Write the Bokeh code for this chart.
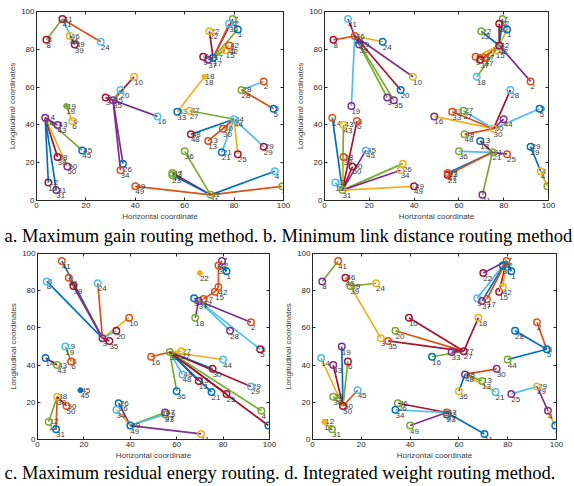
from bokeh.plotting import figure
from bokeh.layouts import column, row
from bokeh.models import ColumnDataSource, LinearAxis, FixedTicker, Range1d, Label
from bokeh.core.properties import value
from bokeh.embed import file_html
from bokeh.resources import INLINE

# ---------------- data ----------------
node_id = list(range(1, 51))
node_x = [81.5, 92, 28, 96.5, 96, 14.5, 79.5, 4, 67.5, 39.5,
          70.5, 4.8, 69.5, 3.5, 76.5, 49, 71.5, 68, 12, 34,
          75, 70, 55, 26, 81.5, 35, 62, 83, 92, 75.5,
          8, 78, 57, 34, 31, 60, 69.5, 8.5, 15.5, 99.5,
          10.5, 78, 8.5, 80, 18.5, 13.5, 55, 62.5, 40, 12.5]
node_y = [90.5, 63, 54.5, 15.5, 48.5, 42, 96, 85, 76, 65.5,
          3, 9.5, 31.5, 43.8, 79.5, 44.5, 75.5, 65.5, 50, 58.5,
          25.5, 89.5, 13.5, 84, 24.5, 19.5, 47.5, 58.5, 28.5, 38,
          5.5, 93.5, 47, 16, 53, 26, 74.5, 23, 82.5, 7.5,
          96, 82, 40, 43, 26.5, 87, 14.5, 35, 7.5, 18]

palette = {"B": "#0072BD", "O": "#D95319", "Y": "#EDB120", "P": "#7E2F8E",
           "G": "#77AC30", "C": "#4DBEEE", "R": "#A2142F"}

# routing links: (from, to, colour)
links_a = [(8, 41, "G"), (41, 24, "O"), (41, 39, "C"), (46, 39, "B"),
           (10, 35, "R"), (20, 35, "G"), (3, 35, "R"), (3, 16, "P"), (35, 26, "P"), (35, 34, "P"),
           (14, 12, "B"), (14, 31, "B"), (14, 38, "R"), (14, 50, "Y"), (14, 45, "G"), (14, 43, "P"), (19, 6, "Y"),
           (17, 22, "R"), (17, 7, "P"), (17, 32, "O"), (17, 1, "G"), (17, 42, "Y"), (17, 15, "G"), (17, 9, "C"), (17, 37, "B"),
           (18, 33, "Y"), (2, 28, "C"), (28, 5, "O"), (27, 44, "G"),
           (44, 48, "B"), (44, 30, "R"), (44, 13, "O"), (44, 21, "C"), (44, 25, "Y"), (44, 29, "C"),
           (11, 36, "G"), (11, 47, "R"), (11, 23, "B"), (11, 4, "B"), (11, 49, "O"), (11, 40, "O")]
links_b = [(46, 8, "O"), (46, 24, "Y"), (46, 41, "P"), (46, 19, "C"), (46, 3, "G"), (46, 35, "G"), (46, 20, "R"), (46, 10, "P"), (46, 39, "B"),
           (31, 14, "B"), (31, 43, "G"), (31, 6, "R"), (31, 45, "P"), (31, 38, "Y"), (31, 50, "R"), (31, 26, "G"), (31, 34, "P"), (31, 49, "Y"), (31, 12, "C"),
           (42, 7, "B"), (42, 32, "R"), (42, 22, "B"), (42, 1, "Y"), (42, 9, "Y"), (42, 37, "O"), (42, 17, "O"), (42, 18, "G"), (42, 2, "P"), (42, 15, "C"),
           (30, 28, "R"), (30, 5, "C"), (30, 16, "Y"), (30, 33, "O"), (30, 27, "C"), (30, 44, "P"), (30, 48, "O"),
           (21, 13, "R"), (21, 36, "C"), (21, 25, "P"), (21, 11, "G"), (21, 47, "B"), (21, 23, "O"),
           (29, 4, "B"), (4, 40, "Y")]
links_c = [(3, 8, "B"), (3, 41, "B"), (3, 46, "O"), (3, 39, "P"), (3, 24, "O"), (3, 10, "Y"), (3, 20, "C"), (3, 35, "R"),
           (19, 6, "G"), (14, 43, "R"),
           (38, 12, "G"), (38, 31, "O"), (38, 50, "R"),
           (49, 26, "P"), (49, 34, "Y"), (49, 47, "G"), (49, 23, "C"), (49, 11, "P"),
           (17, 15, "O"), (15, 42, "O"), (42, 32, "O"), (32, 1, "B"), (32, 7, "P"), (37, 9, "B"),
           (37, 2, "P"), (37, 28, "C"), (37, 5, "C"), (37, 18, "P"), (37, 17, "Y"),
           (33, 16, "O"), (33, 27, "Y"), (33, 44, "Y"), (33, 30, "B"), (33, 48, "C"), (33, 36, "G"), (33, 13, "R"),
           (33, 21, "B"), (33, 29, "R"), (33, 25, "R"), (33, 4, "G"), (33, 40, "R")]
links_d = [(41, 8, "G"), (46, 39, "R"), (39, 24, "G"), (46, 3, "Y"),
           (27, 10, "R"), (27, 20, "O"), (27, 35, "R"), (27, 18, "R"), (27, 16, "G"), (27, 33, "P"),
           (7, 22, "P"), (7, 9, "C"), (7, 37, "B"), (7, 17, "O"), (7, 15, "R"), (7, 42, "Y"), (7, 1, "B"), (7, 32, "O"),
           (5, 2, "O"), (5, 28, "B"), (5, 44, "B"),
           (48, 30, "O"), (48, 13, "G"), (48, 21, "Y"), (48, 36, "B"),
           (25, 29, "C"), (29, 4, "P"), (4, 40, "Y"),
           (50, 19, "B"), (50, 6, "G"), (50, 43, "R"), (50, 14, "Y"), (50, 45, "O"), (50, 38, "G"),
           (12, 31, "Y"),
           (47, 26, "R"), (47, 34, "C"), (47, 11, "B"), (47, 49, "P"), (47, 23, "B")]

# node marker colours (node 1..50)
node_col_a = "BORCBYGRRY" "GROPYCBYGC" "BYGCRBYGRO" "PCBOPGPRRG" "ROPCBYGROP"
node_col_b = "BOPYBOGROY" "PCBOYPOCPB" "GGRBOYGCBY" "GROYPGROPG" "CRYPCOOGRR"
node_col_c = "BOPGROPCBO" "YGRBOOOGCR" "BYGCRBYPCR" "BOGCRBPYRB" "OOGCBOPCBO"
node_col_d = "BOYPBROPCR" "BYGCRBOYPG" "CRBYPGRBYP" "GBPBOYPGGB" "OYPGCROPGR"

filled_a = [18, 19]
filled_b = []
filled_c = [22, 45]
filled_d = [12]

# nodes whose number is printed twice (right of and below the marker)
dup_a = [41, 8, 46, 39, 22, 7, 32, 42, 15, 17, 37, 9, 18, 28, 5, 33, 27, 44, 30, 48,
         13, 29, 21, 40, 11, 47, 23, 49, 12, 31, 50, 38, 45, 43, 6, 19, 14, 35, 3]
dup_b = [46, 39, 22, 7, 32, 42, 15, 17, 9, 37, 33, 27, 30, 48, 13, 21, 29, 4, 47, 23,
         6, 43, 38, 50, 45, 12, 49, 5]
dup_c = [8, 19, 6, 43, 45, 38, 50, 12, 26, 49, 7, 32, 17, 5, 27, 48, 13, 29, 47, 23]
dup_d = [46, 39, 27, 32, 7, 5, 48, 13, 29, 47, 23, 26, 38, 50, 12]

ticks = [0, 20, 40, 60, 80, 100]
x_title = "Horizontal coordinate"
y_title = "Longitudinal coordinates"
caption_top = "a. Maximum gain routing method. b. Minimum link distance routing method"
caption_bottom = "c. Maximum residual energy routing. d. Integrated weight routing method."

AX = "#262626"
TICK_FONT = "Liberation Sans"


def panel(links, node_col, filled, dup, w, h, bl, br, bt, bb):
    p = figure(width=w, height=h, x_range=Range1d(0, 100), y_range=Range1d(0, 100),
               toolbar_location=None, output_backend="svg",
               min_border_left=bl, min_border_right=br, min_border_top=bt, min_border_bottom=bb)
    p.grid.visible = False
    p.outline_line_color = AX
    p.outline_line_width = 1
    p.background_fill_color = "white"
    for ax in (p.xaxis[0], p.yaxis[0]):
        ax.ticker = FixedTicker(ticks=ticks)
        ax.major_tick_in = 3
        ax.major_tick_out = 0
        ax.minor_tick_in = 0
        ax.minor_tick_out = 0
        ax.axis_line_color = AX
        ax.major_tick_line_color = AX
        ax.major_label_text_font = TICK_FONT
        ax.major_label_text_font_size = "8px"
        ax.major_label_text_color = AX
        ax.major_label_standoff = 2
        ax.axis_label_text_font = TICK_FONT
        ax.axis_label_text_font_size = "8px"
        ax.axis_label_text_font_style = "normal"
        ax.axis_label_text_color = "#404040"
        ax.axis_label_standoff = 1
    p.xaxis.axis_label = x_title
    p.yaxis.axis_label = y_title
    # mirrored tick marks on the top and right edges (box on), no labels
    for side in ("above", "right"):
        a = LinearAxis(ticker=FixedTicker(ticks=ticks),
                       major_label_overrides={t: "" for t in ticks},
                       major_label_text_font_size="8px",
                       major_label_standoff=0, major_tick_in=3, major_tick_out=0,
                       minor_tick_in=0, minor_tick_out=0, axis_line_color=AX,
                       major_tick_line_color=AX)
        p.add_layout(a, side)

    # links
    seg = dict(x0=[node_x[a - 1] for a, b, c in links], y0=[node_y[a - 1] for a, b, c in links],
               x1=[node_x[b - 1] for a, b, c in links], y1=[node_y[b - 1] for a, b, c in links],
               col=[palette[c] for a, b, c in links])
    p.segment("x0", "y0", "x1", "y1", source=ColumnDataSource(seg), line_color="col", line_width=1.7)

    # labels
    lab = dict(x=node_x, y=node_y, t=[str(i) for i in node_id])
    p.text("x", "y", "t", source=ColumnDataSource(lab), text_align="left", text_baseline="top",
           x_offset=0, y_offset=3, text_font=value(TICK_FONT), text_font_size="8px", text_color="#3a3a3a")
    dl = dict(x=[node_x[i - 1] for i in dup], y=[node_y[i - 1] for i in dup], t=[str(i) for i in dup])
    p.text("x", "y", "t", source=ColumnDataSource(dl), text_align="left", text_baseline="middle",
           x_offset=1, y_offset=0, text_font=value(TICK_FONT), text_font_size="8px", text_color="#3a3a3a")

    # nodes
    op = [i for i in node_id if i not in filled]
    nd = dict(x=[node_x[i - 1] for i in op], y=[node_y[i - 1] for i in op],
              col=[palette[node_col[i - 1]] for i in op])
    p.scatter("x", "y", source=ColumnDataSource(nd), marker="circle", size=6.5,
              line_color="col", fill_color=None, line_width=1.5)
    if filled:
        fd = dict(x=[node_x[i - 1] for i in filled], y=[node_y[i - 1] for i in filled],
                  col=[palette[node_col[i - 1]] for i in filled])
        p.scatter("x", "y", source=ColumnDataSource(fd), marker="circle", size=5,
                  line_color="col", fill_color="col", line_width=1)
    return p


def caption(text, h, ypos):
    c = figure(width=574, height=h, x_range=Range1d(0, 574), y_range=Range1d(0, h),
               toolbar_location=None, output_backend="svg", x_axis_type=None, y_axis_type=None,
               min_border=0)
    c.grid.visible = False
    c.outline_line_color = None
    c.add_layout(Label(x=4, y=ypos, text=text, text_font="Liberation Serif",
                       text_font_size="18.5px", text_baseline="middle", text_color="black"))
    return c


pa = panel(links_a, node_col_a, filled_a, dup_a, 293, 224, 36, 10, 11, 24)
pb = panel(links_b, node_col_b, filled_b, dup_b, 281, 224, 31, 26, 11, 24)
pc = panel(links_c, node_col_c, filled_c, dup_c, 281, 216, 37, 12, 7, 23)
pd = panel(links_d, node_col_d, filled_d, dup_d, 293, 216, 28, 18, 5, 21)

cap1 = caption(caption_top, 22, 11)
cap2 = caption(caption_bottom, 24, 14)

layout = column(row(pa, pb), cap1, row(pc, pd), cap2)
open("out.html", "w").write(file_html(layout, INLINE))
